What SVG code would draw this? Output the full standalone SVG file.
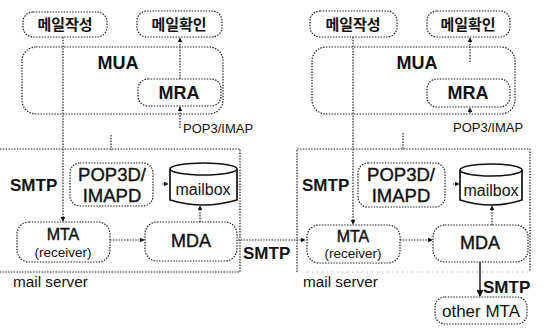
<svg xmlns="http://www.w3.org/2000/svg" width="554" height="333" viewBox="0 0 554 333">
<defs>
<marker id="ah" viewBox="0 0 8 8" refX="7" refY="4" markerWidth="5" markerHeight="5" orient="auto" markerUnits="userSpaceOnUse">
<path d="M0,0 L8,4 L0,8 z" fill="#111"/>
</marker>
<marker id="ahs" viewBox="0 0 8 8" refX="7" refY="4" markerWidth="7" markerHeight="7" orient="auto" markerUnits="userSpaceOnUse">
<path d="M0,0 L8,4 L0,8 z" fill="#111"/>
</marker>
</defs>
<style>
.box{fill:none;stroke:#222;stroke-width:1.2;stroke-dasharray:1.5 1.3}
.ln{fill:none;stroke:#222;stroke-width:1.2;stroke-dasharray:1.5 1.3}
.faint{fill:none;stroke:#999;stroke-width:1;stroke-dasharray:1 4}
.solid{fill:none;stroke:#111;stroke-width:1.4}
.cyl{fill:#fff;stroke:#111;stroke-width:1.7}
.ko{font-family:"Noto Sans CJK KR",sans-serif;font-size:15px;font-weight:bold;fill:#111;text-anchor:middle}
.big{font-family:"Liberation Sans",Arial,sans-serif;font-size:18px;font-weight:bold;fill:#111;text-anchor:middle}
.mid{font-family:"Liberation Sans",Arial,sans-serif;font-size:18.5px;fill:#111;stroke:#111;stroke-width:0.4;text-anchor:middle}
.t{font-family:"Liberation Sans",Arial,sans-serif;fill:#111}
.h{stroke:#111;stroke-width:0.4}
.c{text-anchor:middle}
</style>

<g id="connectors">
<line class="ln" x1="63" y1="37" x2="63" y2="221" marker-end="url(#ah)"/>
<line class="ln" x1="180" y1="79" x2="180" y2="38" marker-end="url(#ah)"/>
<line class="ln" x1="180" y1="128" x2="180" y2="107" marker-end="url(#ah)"/>
<line class="ln" x1="111" y1="135" x2="111" y2="150"/>
<line class="ln" x1="110" y1="240" x2="144" y2="240" marker-end="url(#ah)"/>
<line class="ln" x1="200" y1="222" x2="200" y2="206" marker-end="url(#ah)"/>
<line class="ln" x1="162" y1="184" x2="168" y2="184" marker-end="url(#ah)"/>
<line class="ln" x1="238" y1="240" x2="305" y2="240" marker-end="url(#ah)"/>
<line class="ln" x1="353" y1="37" x2="353" y2="224" marker-end="url(#ah)"/>
<line class="ln" x1="470" y1="62" x2="470" y2="38" marker-end="url(#ah)"/>
<line class="ln" x1="470" y1="113" x2="470" y2="108" marker-end="url(#ah)"/>
<line class="ln" x1="403" y1="133" x2="403" y2="150"/>
<line class="ln" x1="400" y1="240" x2="432" y2="240" marker-end="url(#ah)"/>
<line class="ln" x1="492" y1="225" x2="492" y2="206" marker-end="url(#ah)"/>
<line class="ln" x1="453" y1="184" x2="459" y2="184" marker-end="url(#ah)"/>
<line class="solid" x1="480" y1="262" x2="480" y2="296" marker-end="url(#ahs)"/>
</g>

<g id="server-left">
<path class="ln" d="M0,149 H240 V272 H0"/>
<text class="t" x="13" y="287" font-size="15.3">mail server</text>
</g>
<g id="server-right">
<path class="ln" d="M297,272 V149 H530 V272"/>
<line class="faint" x1="297" y1="272" x2="530" y2="272"/>
<text class="t" x="303" y="287" font-size="15.3">mail server</text>
</g>

<g id="write-left">
<rect class="box" x="23" y="12" width="84" height="25" rx="10"/>
<text class="ko" x="65" y="30">메일작성</text>
</g>
<g id="check-left">
<rect class="box" x="137" y="11" width="85" height="26" rx="10"/>
<text class="ko" x="179" y="30">메일확인</text>
</g>
<g id="mua-left">
<rect class="box" x="22" y="47" width="201" height="67" rx="14"/>
<text class="big" x="118" y="69">MUA</text>
</g>
<g id="mra-left">
<rect class="box" x="138" y="79" width="83" height="27" rx="10"/>
<text class="big" x="179" y="99">MRA</text>
</g>
<text class="t" x="183" y="133" font-size="13">POP3/IMAP</text>
<g id="pop3d-left">
<rect class="box" x="70" y="163" width="83" height="43" rx="10"/>
<text class="mid" x="112" y="181">POP3D/</text>
<text class="mid" x="112" y="202">IMAPD</text>
</g>
<g id="mailbox-left">
<path class="cyl" d="M170,169 V200 Q203,210 237,200 V169"/>
<ellipse class="cyl" cx="203.5" cy="169" rx="33.5" ry="6"/>
<text class="t c" x="203" y="195" font-size="16">mailbox</text>
</g>
<text class="t" x="10" y="191" font-size="17" font-weight="bold">SMTP</text>
<g id="mta-left">
<rect class="box" x="17" y="222" width="93" height="40" rx="12"/>
<text class="t c h" x="63" y="240" font-size="16">MTA</text>
<text class="t c" x="63" y="257" font-size="13.5">(receiver)</text>
</g>
<g id="mda-left">
<rect class="box" x="145" y="222" width="92" height="39" rx="12"/>
<text class="t c h" x="191" y="247" font-size="18">MDA</text>
</g>
<text class="t" x="243" y="259" font-size="17" font-weight="bold">SMTP</text>

<g id="write-right">
<rect class="box" x="310" y="11" width="87" height="26" rx="10"/>
<text class="ko" x="353" y="30">메일작성</text>
</g>
<g id="check-right">
<rect class="box" x="427" y="11" width="83" height="26" rx="10"/>
<text class="ko" x="468" y="30">메일확인</text>
</g>
<g id="mua-right">
<rect class="box" x="312" y="47" width="203" height="67" rx="14"/>
<text class="big" x="417" y="69">MUA</text>
</g>
<g id="mra-right">
<rect class="box" x="427" y="79" width="83" height="28" rx="10"/>
<text class="big" x="468" y="99">MRA</text>
</g>
<text class="t" x="453" y="132" font-size="13">POP3/IMAP</text>
<g id="pop3d-right">
<rect class="box" x="358" y="163" width="87" height="44" rx="10"/>
<text class="mid" x="401" y="181">POP3D/</text>
<text class="mid" x="401" y="202">IMAPD</text>
</g>
<g id="mailbox-right">
<path class="cyl" d="M460,170 V200 Q491,210 522,200 V170"/>
<ellipse class="cyl" cx="491" cy="170" rx="31" ry="6"/>
<text class="t c" x="491" y="196" font-size="16">mailbox</text>
</g>
<text class="t" x="302" y="191" font-size="17" font-weight="bold">SMTP</text>
<g id="mta-right">
<rect class="box" x="307" y="225" width="93" height="38" rx="12"/>
<text class="t c h" x="353" y="242" font-size="16">MTA</text>
<text class="t c" x="353" y="258" font-size="13.5">(receiver)</text>
</g>
<g id="mda-right">
<rect class="box" x="433" y="225" width="95" height="37" rx="12"/>
<text class="t c h" x="480" y="249" font-size="18">MDA</text>
</g>
<text class="t" x="483" y="293" font-size="17" font-weight="bold">SMTP</text>
<g id="other-mta">
<rect class="box" x="435" y="297" width="92" height="27" rx="10"/>
<text class="t c" x="481" y="317" font-size="17">other MTA</text>
</g>
</svg>
